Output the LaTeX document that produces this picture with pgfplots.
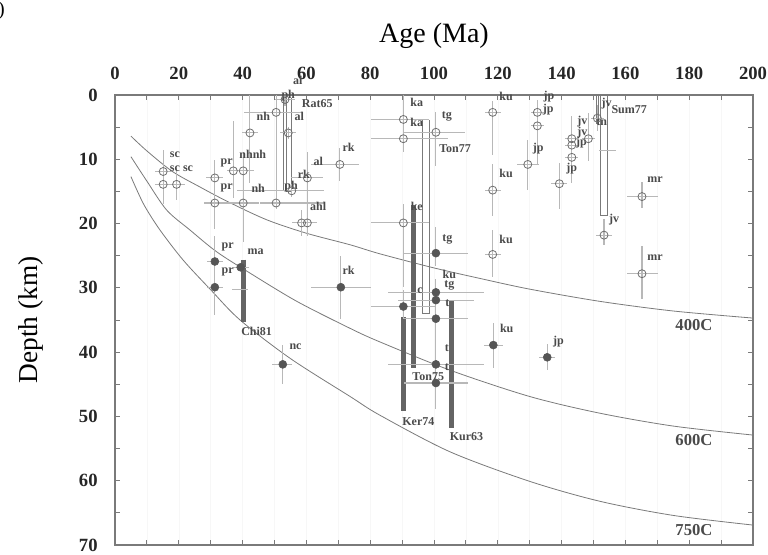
\documentclass[border=0pt]{standalone}
\usepackage{fontspec}
\setmainfont{Liberation Serif}
\usepackage{pgfplots}
\pgfplotsset{compat=1.18}
\usepackage{pgfplotstable}
\usetikzlibrary{calc}

\definecolor{curve}{HTML}{7A7A7A}
\definecolor{errc}{HTML}{B8B8B8}
\definecolor{mk}{HTML}{6E6E6E}
\definecolor{fillmk}{HTML}{555555}
\definecolor{barc}{HTML}{646464}
\definecolor{lbl}{HTML}{4A4A4A}

\tikzset{
  lab/.style={font=\fontsize{9}{9}\selectfont\bfseries, text=lbl, inner sep=0pt},
  iso/.style={font=\fontsize{12.5}{12.5}\selectfont\bfseries, text=lbl, inner sep=0pt},
}

% open circles: age, depth, errors (minus/plus)
\pgfplotstableread{
x y xm xp ym yp
15.1 11.9 2.7 2.7 3.3 2.0
15.1 13.9 2.7 2.7 0 3.0
19.3 13.9 2.7 2.7 2.5 2.5
31.3 12.9 2.7 2.7 2.8 2.8
31.3 16.8 3.3 3.3 2.0 4.0
37.1 11.8 2.0 2.0 7.8 4.2
40.2 11.8 3.5 3.5 3.0 4.0
40.2 16.8 10.0 5.0 2.0 6.0
42.3 5.9 2.5 2.5 5.9 7.8
50.5 2.7 10.0 8.5 2.7 3.0
50.5 16.8 5.0 15.0 14.0 1.0
53.3 0.7 3.0 3.0 0.7 1.0
54.3 5.9 2.5 2.5 1.0 1.0
55.4 14.9 17.0 10.0 1.0 1.0
60.3 12.9 5.0 5.0 4.0 7.0
58.5 19.9 3.0 3.0 2.0 2.0
60.3 19.9 3.0 3.0 2.0 2.0
70.5 10.8 9.0 6.0 2.5 2.5
90.4 3.8 10.0 8.0 3.8 4.0
90.4 6.8 10.0 14.0 2.0 2.0
100.6 5.8 10.0 9.0 3.2 5.2
118.4 2.7 2.5 2.5 1.8 6.7
132.4 2.7 2.0 2.0 2.0 2.0
132.4 4.8 2.0 2.0 2.5 6.0
129.4 10.8 3.5 3.5 3.8 4.0
118.4 14.8 2.5 2.5 4.0 4.0
139.3 13.8 2.5 2.5 3.3 4.0
143.2 6.8 2.0 2.0 3.5 2.0
143.2 7.8 2.0 2.0 1.0 1.0
143.2 9.7 2.0 2.0 1.0 4.0
148.4 6.8 2.0 2.0 4.0 3.5
151.2 3.6 2.0 2.0 2.0 2.0
153.3 21.8 2.5 2.5 2.5 1.5
165.2 15.8 4.8 5.0 2.3 1.8
165.2 27.8 4.8 5.0 4.3 4.0
90.4 19.9 10.0 8.0 3.0 10.0
118.4 24.8 2.5 2.5 3.8 3.5
}\opendata

% filled circles
\pgfplotstableread{
x y xm xp ym yp
31.3 25.9 2.5 2.5 4.0 2.0
31.3 29.9 2.5 2.5 2.0 4.3
39.4 26.8 2.5 2.5 0 0
70.8 29.9 9.5 9.5 4.8 5.0
52.6 41.9 3.5 3.0 3.0 3.0
100.6 24.6 10.0 10.0 4.0 2.0
100.6 30.7 15.0 15.0 2.0 2.0
100.6 31.9 12.0 12.0 1.0 1.0
100.6 34.8 10.0 10.0 2.0 2.0
90.4 32.9 10.0 10.0 2.5 2.0
100.6 41.9 15.0 15.0 7.0 7.0
100.6 44.8 10.0 10.0 2.0 2.0
118.6 38.9 3.0 3.0 3.5 3.5
135.5 40.8 2.5 2.5 2.0 2.0
}\filldata

\begin{document}
\begin{tikzpicture}
\begin{axis}[
  scale only axis, width=478.5pt, height=337.5pt,
  xmin=0, xmax=200, ymin=0, ymax=70, y dir=reverse,
  xtick={0,20,...,200}, minor xtick={10,30,...,190},
  ytick={0,10,...,70}, minor ytick={5,15,...,65},
  xticklabel pos=upper,
  tick align=inside, major tick length=4pt, minor tick length=4pt,
  tick style={curve, line width=0.6pt},
  axis line style={curve, line width=0.8pt},
  xmajorgrids, xminorgrids, grid style={gray!6},
  /pgf/number format/assume math mode=true,
  ticklabel style={font=\fontsize{14}{14}\selectfont\bfseries, text=black!85},
  xticklabel style={yshift=8pt},
  yticklabel style={xshift=-9.5pt},
  clip=false,
  error bars/error mark=none,
  error bars/error bar style={errc, line width=0.8pt},
]
% isotherms
\addplot[curve, line width=0.6pt, smooth] coordinates {
 (5,6.4) (10,8.7) (18,11.9) (26.6,14.3) (35,16.5) (47.5,19.4) (60,21.5) (73.7,23.3) (83,24.7)
 (100,26.9) (115,28.6) (130,30.2) (152,32.1) (175,33.6) (200,34.7)};
\addplot[curve, line width=0.6pt, smooth] coordinates {
 (5,9.6) (10,13.4) (16.2,17.9) (23.5,21.0) (31.9,24.4) (42.3,27.7) (57,32.1) (73.7,36.3) (83,38.4)
 (105,42.8) (130,46.9) (152,49.5) (175,51.5) (200,52.9)};
\addplot[curve, line width=0.6pt, smooth] coordinates {
 (5,12.7) (9,17.0) (14.1,21.0) (21.4,25.7) (30,30.3) (39.2,35.0) (55,41.0) (73.7,46.9) (83,49.8)
 (105,55.5) (130,60.1) (152,63.2) (175,65.4) (200,66.9)};

% range bars
\addplot[barc, line width=3.8pt] coordinates {(40.3,25.6) (40.3,35.3)};
\addplot[barc, line width=3.8pt] coordinates {(93.5,17.1) (93.5,42.4)};
\addplot[barc, line width=3.8pt] coordinates {(90.5,34.6) (90.5,49.2)};
\addplot[barc, line width=3.8pt] coordinates {(105.6,32.1) (105.6,51.8)};
% open range boxes
\addplot[curve, line width=0.6pt] coordinates {(96.5,3.9) (96.5,34) (98.6,34) (98.6,3.9)};
\addplot[curve, line width=0.6pt] coordinates {(152.2,0) (152.2,18.8) (154.3,18.8) (154.3,0)};
\addplot[curve, line width=0.6pt] coordinates {(150.9,0) (150.9,4.5)};
\addplot[curve, line width=0.6pt] coordinates {(151.6,0) (151.6,4.5)};
\addplot[curve, line width=0.6pt] coordinates {(53.8,0.5) (53.8,15) (55.2,15) (55.2,0.5)};
\addplot[curve, line width=0.6pt] coordinates {(52.8,0.5) (52.8,15)};
% loose crosses
\addplot[errc, line width=0.8pt] coordinates {(36.7,30.3) (41.7,30.3)};
\addplot[errc, line width=0.8pt] coordinates {(151.8,8.7) (157,8.7)};

% data points
\addplot[only marks, mark=o, mark size=3pt, mark options={draw=mk, line width=0.6pt},
  error bars/.cd, x dir=both, x explicit, y dir=both, y explicit]
  table[x=x, y=y, x error minus=xm, x error plus=xp, y error minus=ym, y error plus=yp] {\opendata};
\addplot[only marks, mark=*, mark size=3pt, mark options={draw=fillmk, fill=fillmk},
  error bars/.cd, x dir=both, x explicit, y dir=both, y explicit]
  table[x=x, y=y, x error minus=xm, x error plus=xp, y error minus=ym, y error plus=yp] {\filldata};

% point labels
\node[lab] at (axis cs:18.8,9.3) {sc};
\node[lab] at (axis cs:18.8,11.4) {sc};
\node[lab] at (axis cs:22.9,11.4) {sc};
\node[lab] at (axis cs:35,10.6) {pr};
\node[lab] at (axis cs:43.2,9.3) {nhnh};
\node[lab] at (axis cs:35,14.5) {pr};
\node[lab] at (axis cs:44.9,14.5) {nh};
\node[lab] at (axis cs:55.2,14.3) {ph};
\node[lab] at (axis cs:46.5,3.3) {nh};
\node[lab] at (axis cs:57.8,3.3) {al};
\node[lab] at (axis cs:54.3,0.1) {ph};
\node[lab] at (axis cs:57.3,-2.3) {al};
\node[lab] at (axis cs:63.4,1.3) {Rat65};
\node[lab] at (axis cs:63.7,10.4) {al};
\node[lab] at (axis cs:59.2,12.4) {rk};
\node[lab] at (axis cs:73.2,8.2) {rk};
\node[lab] at (axis cs:63.7,17.4) {ahl};
\node[lab] at (axis cs:35.3,23.6) {pr};
\node[lab] at (axis cs:44.1,24.4) {ma};
\node[lab] at (axis cs:35.3,27.5) {pr};
\node[lab] at (axis cs:44.4,36.7) {Chi81};
\node[lab] at (axis cs:56.6,39.2) {nc};
\node[lab] at (axis cs:73.2,27.2) {rk};
\node[lab] at (axis cs:94.6,1.2) {ka};
\node[lab] at (axis cs:94.6,4.3) {ka};
\node[lab] at (axis cs:104,3.4) {tg};
\node[lab] at (axis cs:106.6,8.3) {Ton77};
\node[lab] at (axis cs:122.6,0.2) {ku};
\node[lab] at (axis cs:136,0.2) {jp};
\node[lab] at (axis cs:135.8,2.3) {jp};
\node[lab] at (axis cs:132.7,8.3) {jp};
\node[lab] at (axis cs:122.6,12.2) {ku};
\node[lab] at (axis cs:146.5,4.1) {jv};
\node[lab] at (axis cs:146.5,5.9) {jv};
\node[lab] at (axis cs:154.1,1.3) {jv};
\node[lab] at (axis cs:161.2,2.2) {Sum77};
\node[lab] at (axis cs:152.6,4.3) {tn};
\node[lab] at (axis cs:146.2,7.4) {jp};
\node[lab] at (axis cs:143.2,11.4) {jp};
\node[lab] at (axis cs:156.5,19.4) {jv};
\node[lab] at (axis cs:169.3,13.2) {mr};
\node[lab] at (axis cs:169.3,25.3) {mr};
\node[lab] at (axis cs:94.6,17.4) {ke};
\node[lab] at (axis cs:104.2,22.4) {tg};
\node[lab] at (axis cs:122.6,22.4) {ku};
\node[lab] at (axis cs:104.8,27.9) {ku};
\node[lab] at (axis cs:104.8,29.7) {tg};
\node[lab] at (axis cs:95.6,30.4) {c};
\node[lab] at (axis cs:104.2,32.4) {t};
\node[lab] at (axis cs:104,39.4) {t};
\node[lab] at (axis cs:104,42.3) {t};
\node[lab] at (axis cs:98.2,43.8) {Ton75};
\node[lab] at (axis cs:122.8,36.3) {ku};
\node[lab] at (axis cs:139,38.4) {jp};
\node[lab] at (axis cs:95.1,50.8) {Ker74};
\node[lab] at (axis cs:110.2,53.2) {Kur63};
% isotherm labels
\node[iso] at (axis cs:181.5,35.8) {400C};
\node[iso] at (axis cs:181.5,53.7) {600C};
\node[iso] at (axis cs:181.5,67.7) {750C};

\coordinate (bl) at (axis cs:0,70);
\coordinate (tr) at (axis cs:200,0);
\coordinate (tc) at (axis cs:100,0);
\coordinate (lc) at (axis cs:0,35);
\end{axis}
\node[font=\fontsize{21}{21}\selectfont] at ($(tc)+(0,44.5pt)$) {Age (Ma)};
\node[font=\fontsize{20.5}{20.5}\selectfont, rotate=90] at ($(lc)+(-63pt,0)$) {Depth (km)};
\pgfresetboundingbox
\path[use as bounding box] ($(bl)+(-86.25pt,-7pt)$) rectangle ($(tr)+(11.25pt,71.25pt)$);
\node[anchor=north east, inner sep=0pt, font=\fontsize{15}{15}\selectfont] at ($(bl|-tr)+(-82.5pt,70.5pt)$) {)};
\end{tikzpicture}
\end{document}
